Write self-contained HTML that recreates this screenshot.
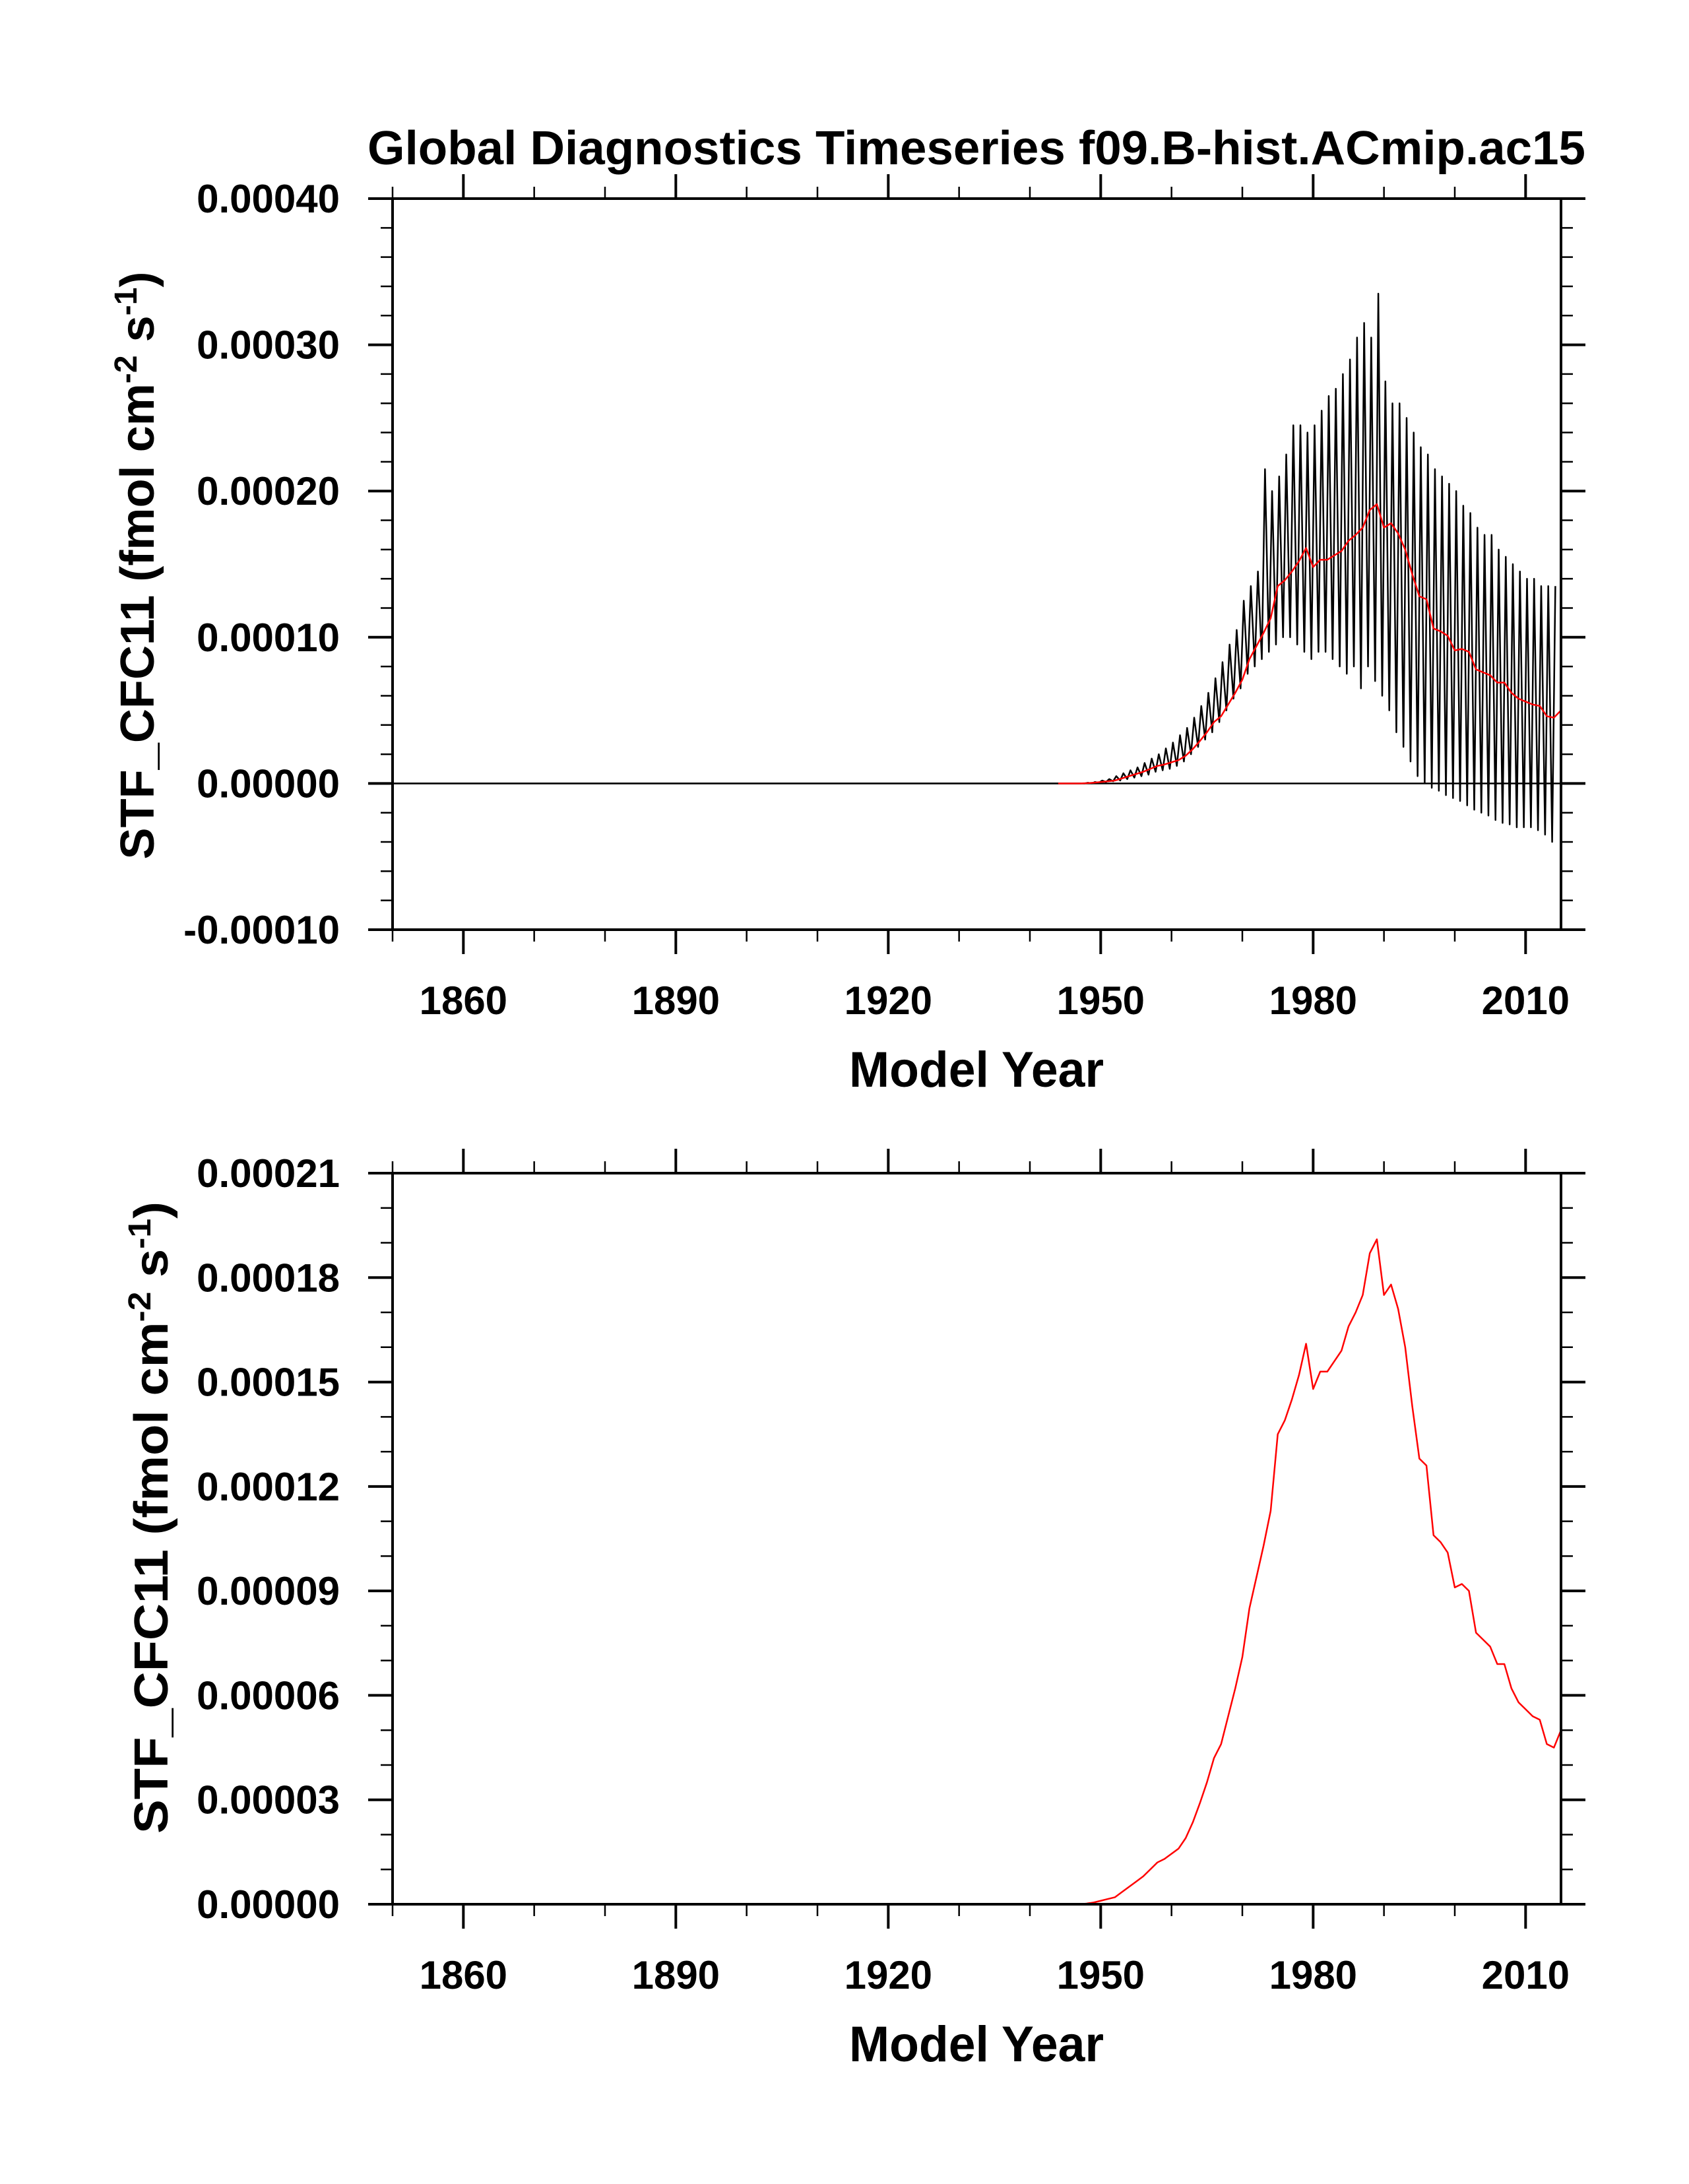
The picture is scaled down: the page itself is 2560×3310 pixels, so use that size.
<!DOCTYPE html>
<html><head><meta charset="utf-8"><style>
html,body{margin:0;padding:0;background:#fff}
svg{display:block}
text{font-family:"Liberation Sans",Arial,sans-serif;font-weight:bold;fill:#000}
</style></head><body>
<svg id="chart" width="2560" height="3310" viewBox="0 0 2560 3310" xmlns="http://www.w3.org/2000/svg">
<text x="1480" y="249" font-size="72" text-anchor="middle" textLength="1846" lengthAdjust="spacingAndGlyphs">Global Diagnostics Timeseries f09.B-hist.ACmip.ac15</text>
<g id="top"></g>
<g id="bot"></g>
</svg>
<script>
// ---- data (units 1e-5 fmol cm-2 s-1), years start 1944 ----
const startYear = 1944;
const annualMean = [0,0,0,0,0.02,0.05,0.1,0.15,0.2,0.35,0.5,0.65,0.8,1.0,1.2,1.3,1.45,1.6,1.9,2.35,2.9,3.5,4.2,4.6,5.4,6.2,7.1,8.5,9.4,10.3,11.3,13.5,13.9,14.5,15.2,16.1,14.8,15.3,15.3,15.6,15.9,16.6,17.0,17.5,18.7,19.1,17.5,17.8,17.1,16.0,14.3,12.8,12.6,10.6,10.4,10.1,9.1,9.2,9.0,7.8,7.6,7.4,6.9,6.9,6.2,5.8,5.6,5.4,5.3,4.6,4.5,5.0];
const annualMax = [0,0,0,0,0.05,0.1,0.2,0.3,0.5,0.7,0.9,1.1,1.4,1.7,2.0,2.4,2.8,3.3,3.8,4.5,5.3,6.2,7.2,8.3,9.5,10.5,12.5,13.5,14.5,21.5,20,21,22.5,24.5,24.5,24,24.5,25.5,26.5,27,28,29,30.5,31.5,30.5,33.5,27.5,26,26,25,24,23,22.5,21.5,21,20.5,20,19,18.5,17.5,17,17,16,15.5,15,14.5,14,14,13.5,13.5,13.5];
const annualMin = [0,0,0,0,0,0,0.05,0.1,0.15,0.2,0.3,0.4,0.5,0.6,0.8,0.9,1.0,1.2,1.5,2.0,2.5,3.0,3.5,4.2,5.0,5.8,6.5,7.5,8.0,8.5,9.0,9.5,10,10,9.5,9,8.5,9,9,8.5,8,7.5,8,6.5,8,7,6,5,3.5,2.5,1.5,0.5,0,-0.3,-0.5,-0.8,-1,-1.2,-1.5,-1.8,-2,-2.2,-2.5,-2.7,-2.8,-3,-3,-3,-3.2,-3.5,-4];
const xTicks = [1860,1890,1920,1950,1980,2010];
const topYTicks = ["0.00040","0.00030","0.00020","0.00010","0.00000","-0.00010"];
const botYTicks = ["0.00021","0.00018","0.00015","0.00012","0.00009","0.00006","0.00003","0.00000"];

const NS="http://www.w3.org/2000/svg";
function mk(parent,tag,attrs){const e=document.createElementNS(NS,tag);for(const k in attrs)e.setAttribute(k,attrs[k]);parent.appendChild(e);return e;}

function panel(g,top,bot,ymin,ymax,ymajor,yminor,yLabels,showMonthly,ytitleX,ytitleCY,ytitleLen){
  const L=595,R=2366,X0=1850,X1=2015;
  const sx=v=>L+(v-X0)*(R-L)/(X1-X0);
  const sy=v=>bot-(v-ymin)*(bot-top)/(ymax-ymin);
  for(let yr=1850;yr<=2015;yr+=10){
    const maj=(yr-1860)%30===0; const len=maj?37:18; const x=sx(yr);
    const t1=mk(g,'line',{x1:x,y1:top,x2:x,y2:top-len,stroke:'#000','stroke-width':maj?4:2.5});
    
    
    const t2=mk(g,'line',{x1:x,y1:bot,x2:x,y2:bot+len,stroke:'#000','stroke-width':maj?4:2.5});
    
    
  }
  const nMin=Math.round((ymax-ymin)/yminor);
  for(let i=0;i<=nMin;i++){
    const v=ymin+i*yminor; const maj=Math.abs(((v-ymin)/ymajor)-Math.round((v-ymin)/ymajor))<1e-6;
    const len=maj?37:18; const y=sy(v);
    const a=mk(g,'line',{x1:L,y1:y,x2:L-len,y2:y,stroke:'#000','stroke-width':maj?4:2.5});
    
    
    const b=mk(g,'line',{x1:R,y1:y,x2:R+len,y2:y,stroke:'#000','stroke-width':maj?4:2.5});
    
    
  }
  yLabels.forEach(s=>{
    const t=mk(g,'text',{x:515,y:sy(parseFloat(s)*1e5)+21,'font-size':60,'text-anchor':'end'});
    
    
    t.textContent=s;
  });
  xTicks.forEach(yr=>{
    const t=mk(g,'text',{x:sx(yr),y:bot+128,'font-size':60,'text-anchor':'middle'});
    
    
    t.textContent=yr;
  });
  const xt=mk(g,'text',{x:1480,y:bot+238,'font-size':76,'text-anchor':'middle',textLength:386,lengthAdjust:'spacingAndGlyphs'});
  
  
  xt.textContent='Model Year';
  const yt=mk(g,'text',{transform:`translate(${ytitleX},${ytitleCY}) rotate(-90)`,'font-size':72,'text-anchor':'middle',textLength:ytitleLen,lengthAdjust:'spacingAndGlyphs'});
  
  
  yt.innerHTML='STF_CFC11 (fmol cm<tspan dy="-26" font-size="48">-2</tspan><tspan dy="26"> s</tspan><tspan dy="-26" font-size="48">-1</tspan><tspan dy="26">)</tspan>';
  if(showMonthly){
    const zl=mk(g,'line',{x1:L,y1:sy(0),x2:R,y2:sy(0),stroke:'#000','stroke-width':2.5});
    
    
    let pts=[[sx(1850),sy(0)]];
    for(let i=0;i<annualMax.length;i++){
      const yr=startYear+i;
      pts.push([sx(yr-0.25),sy(annualMin[i])]);
      pts.push([sx(yr+0.2),sy(annualMax[i])]);
    }
    const pl=mk(g,'polyline',{points:pts.map(p=>p.join(',')).join(' '),fill:'none',stroke:'#000','stroke-width':2.5,'stroke-linejoin':'round'});
    
    
  }
  let mp=[];
  annualMean.forEach((v,i)=>{mp.push([sx(startYear+i),sy(v)]);});
  const rl=mk(g,'polyline',{points:mp.map(p=>p.join(',')).join(' '),fill:'none',stroke:'#f00','stroke-width':2.5,'stroke-linejoin':'round'});
  
  
  const box=mk(g,'rect',{x:L,y:top,width:R-L,height:bot-top,fill:'none',stroke:'#000','stroke-width':4});
  
  
}
panel(document.getElementById('top'),301,1409,-10,40,10,2,topYTicks,true,233,857,891);
panel(document.getElementById('bot'),1778,2886,0,21,3,1,botYTicks,false,254,2300,958);
</script>
</body></html>
